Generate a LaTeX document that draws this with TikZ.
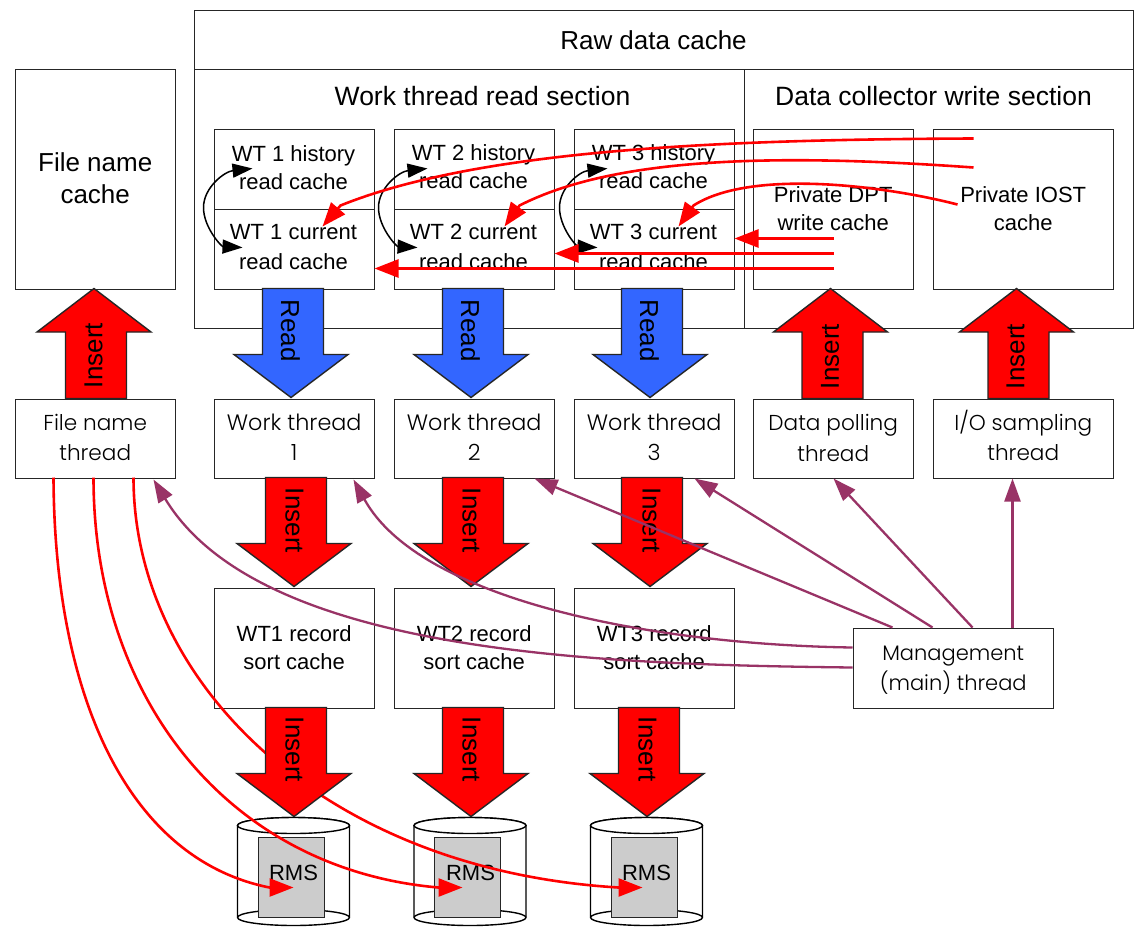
\documentclass[tikz,border=0pt]{standalone}
\usepackage{fontspec}
\setmainfont{Liberation Sans}
\newfontfamily\futura[UprightFont=* Light]{Poppins}
\usetikzlibrary{arrows.meta}
\definecolor{plum}{RGB}{153,51,102}
\definecolor{rdblue}{RGB}{51,102,255}
\newcommand{\dn}[1]{\rule[-#1pt]{0pt}{0pt}}
\tikzset{
  bx/.style={draw=black!85,line width=1.4pt,fill=white,align=center,inner sep=0pt,anchor=north west,font=\fontsize{22}{28}\selectfont},
  tt/.style={align=center,inner sep=0pt,font=\fontsize{22}{28}\selectfont},
  thr/.style={bx,minimum height=79pt,font=\futura\fontsize{21.6}{30.5}\selectfont},
  redl/.style={draw=red,line width=2.6pt,-{Triangle[length=24pt,width=18pt]}},
  plumline/.style={draw=plum,line width=2.3pt,-{Triangle[length=23pt,width=16pt]}},
  blk/.style={draw=black,line width=1.5pt,{Triangle[length=20pt,width=14pt]}-{Triangle[length=20pt,width=14pt]}},
  lab/.style={font=\fontsize{26}{26}\selectfont,inner sep=0pt},
  head/.style={inner sep=0pt,font=\fontsize{26.5}{26}\selectfont},
}
% #1 tip x, #2 tail y, #3 tip y, #4 head y, #5 fill
\newcommand{\fatarrow}[5]{%
  \draw[line width=1.4pt,draw=black!85,fill=#5,line join=miter]
    ({#1-28},#2) -- ({#1-28},#4) -- ({#1-56.5},#4) -- (#1+.5,#3) -- ({#1+57.5},#4) -- ({#1+33},#4) -- ({#1+33},#2) -- cycle;}
\newcommand{\rms}[3]{%
  \draw[line width=1.4pt,fill=white] (#1-56,826) -- (#1-56,918) arc[start angle=180,end angle=360,x radius=56,y radius=-8] -- (#1+56,826) arc[start angle=0,end angle=180,x radius=56,y radius=-8] -- cycle;
  \draw[line width=1.4pt,fill=white] (#1,826) ellipse[x radius=56,y radius=8];
  \draw[line width=1.4pt] (#1-56,918) arc[start angle=180,end angle=0,x radius=56,y radius=-8];
  \node[draw=black!85,line width=1.4pt,fill=black!20,minimum width=66pt,minimum height=80pt,inner sep=0pt,anchor=north] (#2) at (#1-2.3,837) {};
  \node[tt] at (#1+#3,873.5) {RMS};}
\begin{document}
\begin{tikzpicture}[x=1pt,y=-1pt]
\useasboundingbox (0.5,0.5) rectangle (1139.5,926.5);
\fill[white] (0.5,0.5) rectangle (1139.5,926.5);
% Outer raw cache
\node[bx,minimum width=939pt,minimum height=59pt] (raw) at (194,10) {};
\node[head,font=\fontsize{26}{28}\selectfont] (rawt) at (654,40.5) {Raw data cache};
\node[bx,minimum width=550pt,minimum height=259pt] (wsec) at (194,69) {};
\node[bx,minimum width=389pt,minimum height=259pt] (dsec) at (744,69) {};
\node[head] (wst) at (483,97) {Work thread read section};
\node[head] (dst) at (934,97) {Data collector write section};
% File name cache
\node[bx,minimum width=160pt,minimum height=220pt,font=\fontsize{26}{32}\selectfont] (fnc) at (15,69) {File name\\cache\dn{2}};
% read caches
\foreach \x/\n/\yy in {214/1/0,394/2/-1,574/3/-1}{
  \node[bx,minimum width=160pt,minimum height=80pt] (h\n) at (\x,129) {};
  \node[bx,minimum width=160pt,minimum height=80pt] (c\n) at (\x,209) {};
  \node[tt] (ht\n) at (\x+80,168+\yy) {WT \n\ history\\read cache};
  \node[tt,font=\fontsize{22}{30.5}\selectfont] (ct\n) at (\x+80,247.5) {WT \n\ current\\read cache};
}
\node[bx,minimum width=160pt,minimum height=160pt] (dpt) at (753,129) {Private DPT\\write cache\dn{1}};
\node[bx,minimum width=180pt,minimum height=160pt] (iost) at (933,129) {Private IOST\\cache\dn{1}};
% thread boxes
\node[thr,minimum width=160pt] (fnt) at (15,399) {File name\\thread\dn{3}};
\foreach \x/\n in {214/1,394/2,574/3}{
  \node[thr,minimum width=160pt,font=\futura\fontsize{22.3}{30.5}\selectfont] (wt\n) at (\x,399) {Work thread\\\n\dn{3}};
  \node[bx,minimum width=160pt,minimum height=120pt] (s\n) at (\x,588) {WT\n\ record\\sort cache\dn{1}};
}
\node[thr,minimum width=160pt] (dpoll) at (753,399) {Data polling\\thread\dn{2}};
\node[thr,minimum width=180pt] (iosamp) at (933,399) {I/O sampling\\thread\dn{7}};
\node[thr,minimum width=200pt,minimum height=80pt,font=\futura\fontsize{21}{29.5}\selectfont] (mgmt) at (853,628) {\rule{0pt}{18pt}Management\\(main) thread};
% RMS
\rms{294}{r1}{0}
\rms{470.5}{r2}{.5}
\rms{647}{r3}{0}
% red curves of the file name thread (below the fat arrows)
\coordinate (f1) at (54,478);\coordinate (f2) at (94,478);\coordinate (f3) at (134,478);
\coordinate (t1) at (294,888);\coordinate (t2) at (463,888);\coordinate (t3) at (643,888);
\draw[redl] (f1) .. controls (55,700) and (130,860) .. (270,888) -- (t1);
\draw[redl] (f2) .. controls (94,700) and (230,870) .. (439,888) -- (t2);
\draw[redl] (f3) .. controls (134,680) and (320,870) .. (619,888) -- (t3);
% fat arrows
\fatarrow{94}{399}{289}{332.5}{red}
\foreach \x in {291,471,650}{\fatarrow{\x}{289}{398}{355}{rdblue}}
\foreach \x in {294,471,650}{\fatarrow{\x}{478}{587}{544}{red}}
\foreach \x in {294,471,647}{\fatarrow{\x}{708}{817}{774}{red}}
\fatarrow{830.5}{399}{289}{332.5}{red}
\fatarrow{1016.5}{399}{289}{332.5}{red}
% arrow labels
\node[lab,rotate=90] (i0) at (94,356) {Insert};
\foreach \x in {291,471,650}{\node[lab,rotate=-90] at (\x,331) {Read};}
\foreach \x in {295,472,652}{\node[lab,rotate=-90] at (\x,521) {Insert};}
\foreach \x in {295,472,648}{\node[lab,rotate=-90] at (\x,750) {Insert};}
\node[lab,rotate=90] (i4) at (830.5,357) {Insert};
\node[lab,rotate=90] (i5) at (1016,357) {Insert};
% black double arrows
\foreach \a/\b/\c in {253/204/243,428/379/418,608/560/598}{
\draw[blk] (\a,169) .. controls (\a-28,172) and (\b,188) .. (\b,208) .. controls (\b,228) and (\c-21,247) .. (\c,248);
}
% red cache arrows
\coordinate (a1) at (974,139);\coordinate (a2) at (974,168);\coordinate (a3) at (958,205);
\draw[redl] (a1) .. controls (720,140) and (480,150) .. (341,206) -- (323,227);
\draw[redl] (a2) .. controls (790,155) and (620,155) .. (520,206) -- (505,227);
\draw[redl] (a3) .. controls (880,185) and (750,170) .. (694,206) -- (679,227);
\coordinate (b1) at (834,239);\coordinate (b2) at (834,254);\coordinate (b3) at (834,269);
\draw[redl] (b1) -- (735,239);
\draw[redl] (b2) -- (555,254);
\draw[redl] (b3) -- (375,269);
% management arrows
\coordinate (m1) at (893,628);\coordinate (m2) at (933,628);\coordinate (m3) at (973,628);\coordinate (m4) at (1013,628);
\coordinate (m5) at (853,648);\coordinate (m6) at (853,668);
\draw[plumline] (m4) -- (1013,479);
\draw[plumline] (m3) -- (834,479);
\draw[plumline] (m2) -- (695,479);
\draw[plumline] (m1) -- (535,479);
\draw[plumline] (m5) .. controls (650,645) and (420,600) .. (354,480);
\draw[plumline] (m6) .. controls (600,665) and (260,655) .. (154,480);
\end{tikzpicture}
\end{document}
